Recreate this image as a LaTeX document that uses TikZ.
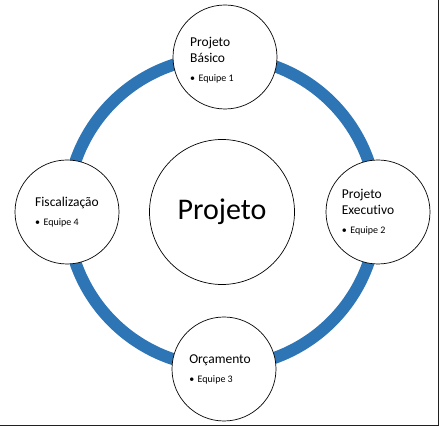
\documentclass[tikz,border=0pt]{standalone}
\usepackage{fontspec}
\setmainfont[Ligatures={NoCommon,NoRare}]{Carlito}
\usepackage{tikz}
\definecolor{anelAzul}{HTML}{2E75B6}
\definecolor{bordaEscura}{HTML}{202020}
\newcommand{\equipe}[1]{{\fontsize{10}{11}\selectfont\textbullet\hspace{3.5pt}Equipe #1}}

\begin{document}
\begin{tikzpicture}[x=1pt,y=-1pt,
  etapa/.style={circle,draw=black,line width=0.7pt,fill=white,minimum size=104pt,inner sep=0pt},
  rotulo/.style={align=left,inner sep=0pt,font=\fontsize{13.5}{16}\selectfont},
  ]
\useasboundingbox (0,0) rectangle (440,427);
\coordinate (centro) at (222,212);
% anel azul
\draw[anelAzul,line width=12pt] (centro) circle (155);
% etapas
\node[etapa] (basico) at (225,57) {};
\node[etapa] (executivo) at (378,212) {};
\node[etapa] (orcamento) at (224,369) {};
\node[etapa] (fiscalizacao) at (67,212) {};
\node[rotulo] (basicoTxt) at ([xshift=-13pt,yshift=-3pt]basico) {Projeto\\Básico\\[3pt]\equipe{1}};
\node[rotulo] (executivoTxt) at ([xshift=-10pt]executivo) {Projeto\\Executivo\\[3pt]\equipe{2}};
\node[rotulo] (orcamentoTxt) at ([xshift=-4pt]orcamento) {Orçamento\\[3pt]\equipe{3}};
\node[rotulo] (fiscalizacaoTxt) at (fiscalizacao) {Fiscalização\\[3pt]\equipe{4}};
% centro
\node[etapa,minimum size=145pt,font=\fontsize{30}{34}\selectfont] (projeto) at (centro) {Projeto};
% moldura
\draw[bordaEscura,line width=1.2pt] (438.6,0) -- (438.6,425.4) -- (0,425.4);
\end{tikzpicture}
\end{document}
